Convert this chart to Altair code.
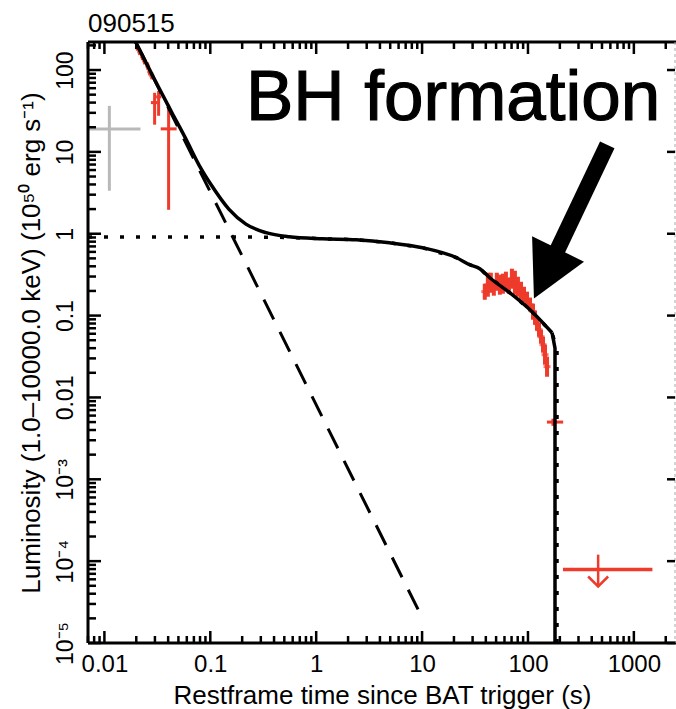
import altair as alt
import pandas as pd

FONT = "Liberation Sans"
RED = "#ee3b2b"
GREY = "#b9b9b9"
W, H = 588, 601

# ---------------- data ----------------
# total model (solid)
model_t = [0.0197, 0.0325, 0.0432, 0.0586, 0.0778, 0.1033, 0.1496, 0.217, 0.336, 0.554,
           1.14, 2.39, 4.92, 10.1, 21.2, 28.2, 35.1, 43.6, 67.5, 104.5, 168.8]
model_L = [221, 61.5, 30.5, 14.5, 7.0, 3.85, 2.0, 1.31, 1.03, 0.919,
           0.869, 0.845, 0.776, 0.675, 0.509, 0.418, 0.374, 0.290, 0.190, 0.118, 0.0618]
drop_t = [168.8, 180, 180]
drop_L = [0.0618, 0.040, 1e-5]
# plateau component (dotted)
plat_t = [0.007, 0.3, 0.554, 1.14, 2.39, 4.92, 10.1, 21.2, 28.2, 35.1, 43.6, 67.5, 104.5, 168.8, 188, 188]
plat_L = [0.91, 0.91, 0.90, 0.869, 0.845, 0.776, 0.675, 0.509, 0.418, 0.374, 0.290, 0.190, 0.118, 0.0618, 0.038, 1e-5]
# steep power law (dashed)
pl_t = [0.0197, 9.9]
pl_L = [221, 2.1e-5]

# grey early point
grey_t, grey_L, grey_lo, grey_hi, grey_tlo, grey_thi = [0.01114], [19.1], [3.35], [36.5], [0.0066], [0.0219]

# early red points
early_t = [0.0205, 0.0215, 0.0229, 0.0239, 0.0256, 0.0267, 0.0280]
early_L = [187, 167, 145, 129, 112, 95, 85]
early_lo = [172, 152, 132, 117, 101, 86, 77]
early_hi = [203, 183, 159, 142, 124, 105, 94]

bar_t = [0.0298, 0.0325, 0.0404, 172]
bar_L = [40, 47, 19.1, 0.005]
bar_lo = [21.5, 27.6, 1.96, 0.0045]
bar_hi = [52.7, 55.7, 37.6, 0.0055]
bar_tlo = [0.0275, 0.0308, 0.034, 151]
bar_thi = [0.0318, 0.0345, 0.0481, 215]

# late red cluster
cl_t = [39.1, 41.8, 44.6, 47.6, 50.8, 54.3, 58.0, 61.9, 66.1, 70.5, 75.3, 80.4,
        85.9, 91.7, 97.9, 104.5, 111.5, 116.5, 121.7, 127.1, 132.8, 138.7, 144.9, 151.4]
cl_L = [0.196, 0.238, 0.252, 0.219, 0.259, 0.238, 0.245, 0.267, 0.232, 0.282, 0.252, 0.225,
        0.201, 0.180, 0.156, 0.136, 0.112, 0.0942, 0.0796, 0.0673, 0.0552, 0.0441, 0.0333, 0.0238]
cl_lo = [0.156, 0.170, 0.190, 0.175, 0.201, 0.180, 0.185, 0.207, 0.185, 0.213, 0.180, 0.170,
         0.156, 0.144, 0.125, 0.112, 0.0891, 0.0774, 0.0654, 0.0552, 0.0454, 0.0352, 0.0251, 0.0179]
cl_hi = [0.245, 0.334, 0.334, 0.274, 0.334, 0.316, 0.325, 0.344, 0.290, 0.374, 0.353, 0.298,
         0.259, 0.225, 0.196, 0.166, 0.140, 0.115, 0.097, 0.0819, 0.0673, 0.0552, 0.0441, 0.0315]

# upper limit
ul_t, ul_L, ul_tlo, ul_thi, ul_top, ul_tip = [460], [7.9e-5], [214], [1497], [1.2e-4], [4.9e-5]

# annotation
note_t, note_L = [0.217], [24.7]
shaft_t, shaft_L, shaft_t2, shaft_L2 = [561], [12.2], [188], [0.62]
head_t, head_L = [148], [0.325]

# ticks
x_major = [0.01, 0.1, 1, 10, 100, 1000]
x_minor = [m * 10.0 ** e for e in range(-3, 4) for m in range(2, 10) if 0.007 <= m * 10.0 ** e <= 2500]
y_major = [1e-5, 1e-4, 1e-3, 0.01, 0.1, 1, 10, 100]
y_minor = [m * 10.0 ** e for e in range(-5, 3) for m in range(2, 10) if m * 10.0 ** e <= 220]

# ---------------- encodings ----------------
xscale = alt.Scale(type="log", domain=[0.007, 2500], nice=False)
yscale = alt.Scale(type="log", domain=[1e-5, 220], nice=False)
xaxis = alt.Axis(title="Restframe time since BAT trigger (s)", values=x_major,
                 labelExpr="format(datum.value, '~g')", ticks=False, tickSize=0, domain=False,
                 grid=False, labelFont=FONT, labelFontSize=24, labelPadding=9, labelColor="black",
                 labelFlush=False, labelOverlap=False, labelBaseline="top",
                 titleFont=FONT, titleFontSize=26, titleFontWeight="normal", titleColor="black",
                 titleX=W / 2, titleY=60, titleBaseline="alphabetic", titleAlign="center")
ylab = ("datum.value < 2e-5 ? '10⁻⁵' : datum.value < 2e-4 ? '10⁻⁴' : "
        "datum.value < 2e-3 ? '10⁻³' : format(datum.value, '~g')")
yaxis = alt.Axis(title="Luminosity (1.0–10000.0 keV) (10⁵⁰ erg s⁻¹)", values=y_major,
                 labelExpr=ylab, ticks=False, tickSize=0, domain=False, grid=False,
                 labelFont=FONT, labelFontSize=23, labelAngle=270, labelAlign="center",
                 labelBaseline="alphabetic", labelPadding=16, labelColor="black",
                 labelFlush=False, labelOverlap=False,
                 titleFont=FONT, titleFontSize=26, titleFontWeight="normal", titleColor="black",
                 titleAngle=270, titleX=-57, titleY=H / 2, titleBaseline="middle", titleAlign="center")


def X(f):
    return alt.X(f"{f}:Q", scale=xscale, axis=xaxis)


def Y(f):
    return alt.Y(f"{f}:Q", scale=yscale, axis=yaxis)


def df(**k):
    return pd.DataFrame(k)


layers = []

# grey point
g = df(t=grey_t, L=grey_L, lo=grey_lo, hi=grey_hi, tlo=grey_tlo, thi=grey_thi)
layers.append(alt.Chart(g).mark_rule(color=GREY, strokeWidth=3, clip=True).encode(x=X("t"), y=Y("lo"), y2="hi:Q"))
layers.append(alt.Chart(g).mark_rule(color=GREY, strokeWidth=3, clip=True).encode(x=X("tlo"), x2="thi:Q", y=Y("L")))

# early red
e = df(t=early_t, L=early_L, lo=early_lo, hi=early_hi)
layers.append(alt.Chart(e).mark_rule(color=RED, strokeWidth=3, clip=True).encode(x=X("t"), y=Y("lo"), y2="hi:Q"))
layers.append(alt.Chart(e).mark_tick(color=RED, orient="horizontal", size=5, thickness=3, clip=True).encode(x=X("t"), y=Y("L")))
b = df(t=bar_t, L=bar_L, lo=bar_lo, hi=bar_hi, tlo=bar_tlo, thi=bar_thi)
layers.append(alt.Chart(b).mark_rule(color=RED, strokeWidth=3, clip=True).encode(x=X("t"), y=Y("lo"), y2="hi:Q"))
layers.append(alt.Chart(b).mark_rule(color=RED, strokeWidth=3, clip=True).encode(x=X("tlo"), x2="thi:Q", y=Y("L")))

# cluster
c = df(t=cl_t, L=cl_L, lo=cl_lo, hi=cl_hi)
layers.append(alt.Chart(c).mark_rule(color=RED, strokeWidth=4, clip=True).encode(x=X("t"), y=Y("lo"), y2="hi:Q"))
layers.append(alt.Chart(c).mark_tick(color=RED, orient="horizontal", size=7, thickness=3, clip=True).encode(x=X("t"), y=Y("L")))

# upper limit
u = df(t=ul_t, L=ul_L, tlo=ul_tlo, thi=ul_thi, top=ul_top, tip=ul_tip)
layers.append(alt.Chart(u).mark_rule(color=RED, strokeWidth=3.5, clip=True).encode(x=X("tlo"), x2="thi:Q", y=Y("L")))
layers.append(alt.Chart(u).mark_rule(color=RED, strokeWidth=2.5, clip=True).encode(x=X("t"), y=Y("top"), y2="tip:Q"))
layers.append(alt.Chart(u).mark_point(shape="M-1,-1L0,0L1,-1", size=400, filled=False, strokeWidth=2.5,
                                      color=RED, opacity=1, clip=True).encode(x=X("t"), y=Y("tip")))

# model lines
layers.append(alt.Chart(df(t=pl_t, L=pl_L)).mark_line(color="black", strokeWidth=3, strokeDash=[22, 14], clip=True)
              .encode(x=X("t"), y=Y("L")))
layers.append(alt.Chart(df(t=plat_t, L=plat_L, o=list(range(len(plat_t))))).mark_line(
    color="black", strokeWidth=3.5, strokeDash=[4, 12], clip=True).encode(x=X("t"), y=Y("L"), order="o:Q"))
layers.append(alt.Chart(df(t=model_t, L=model_L)).mark_line(color="black", strokeWidth=3.5, interpolate="monotone", clip=True)
              .encode(x=X("t"), y=Y("L")))
layers.append(alt.Chart(df(t=drop_t, L=drop_L, o=list(range(len(drop_t))))).mark_line(color="black", strokeWidth=3.5, clip=True)
              .encode(x=X("t"), y=Y("L"), order="o:Q"))

# annotation
layers.append(alt.Chart(df(t=shaft_t, L=shaft_L, t2=shaft_t2, L2=shaft_L2)).mark_rule(color="black", strokeWidth=16, strokeCap="butt")
              .encode(x=X("t"), y=Y("L"), x2="t2:Q", y2="L2:Q"))
layers.append(alt.Chart(df(t=head_t, L=head_L)).mark_point(shape="M0,-1L1.05,1L-1.05,1Z", size=3025, angle=206,
                                                            filled=True, color="black", opacity=1, strokeWidth=0)
              .encode(x=X("t"), y=Y("L")))
layers.append(alt.Chart(df(t=note_t, L=note_L, s=["BH formation"])).mark_text(
    font=FONT, fontSize=71, align="left", baseline="alphabetic", color="black", stroke="black", strokeWidth=1.2)
    .encode(x=X("t"), y=Y("L"), text="s:N"))

# title text
layers.append(alt.Chart(df(s=["090515"])).mark_text(
    font=FONT, fontSize=26, align="left", baseline="alphabetic", color="black")
    .encode(x=alt.value(0), y=alt.value(-10), text="s:N"))

# frame
one = df(a=[0])
layers.append(alt.Chart(one).mark_rule(color="black", strokeWidth=3).encode(x=alt.value(0), y=alt.value(0), y2=alt.value(H)))
layers.append(alt.Chart(one).mark_rule(color="black", strokeWidth=3).encode(x=alt.value(0), x2=alt.value(W), y=alt.value(H)))
layers.append(alt.Chart(one).mark_rule(color="black", strokeWidth=3).encode(x=alt.value(0), x2=alt.value(W), y=alt.value(0)))
layers.append(alt.Chart(one).mark_rule(color="#aaaaaa", strokeWidth=1, strokeDash=[3, 3]).encode(
    x=alt.value(W - 1), y=alt.value(0), y2=alt.value(H)))

# ticks
xM, xm = df(t=x_major), df(t=x_minor)
yM, ym = df(L=y_major), df(L=y_minor)
for d, ln in ((xM, 12), (xm, 7)):
    layers.append(alt.Chart(d).mark_rule(color="black", strokeWidth=2.5).encode(x=X("t"), y=alt.value(H), y2=alt.value(H - ln)))
    layers.append(alt.Chart(d).mark_rule(color="black", strokeWidth=2.5).encode(x=X("t"), y=alt.value(0), y2=alt.value(ln)))
for d, ln in ((yM, 13), (ym, 8)):
    layers.append(alt.Chart(d).mark_rule(color="black", strokeWidth=2.5).encode(y=Y("L"), x=alt.value(0), x2=alt.value(ln)))
layers.append(alt.Chart(yM).mark_rule(color="black", strokeWidth=2.5).encode(y=Y("L"), x=alt.value(W - 9), x2=alt.value(W - 1)))

chart = alt.layer(*layers).properties(
    width=W, height=H,
    autosize=alt.AutoSizeParams(type="none"),
    padding={"left": 88, "top": 42, "right": 0, "bottom": 66},
).configure_view(stroke=None).configure(background="white")

chart.save("out.html", embed_options={"renderer": "svg", "actions": False})
